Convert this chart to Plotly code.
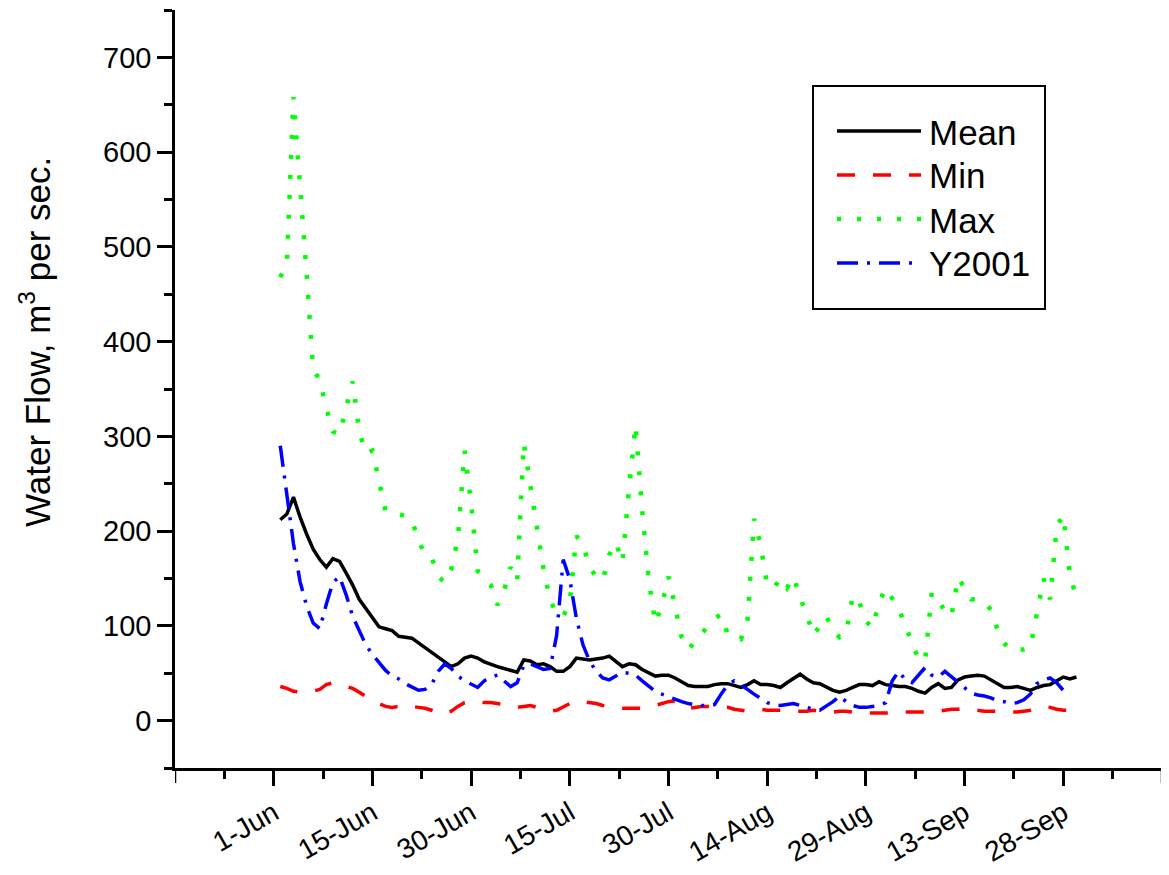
import plotly.graph_objects as go

# Day index: 0 = 1-Jun tick position; data runs day 1..122
days = list(range(1, 123))

mean_flow = [212, 218, 236, 215, 197, 181, 170, 162, 171, 168,
             156, 143, 128, 118, 108, 99, 97, 95, 89, 88,
             87, 82, 77, 72, 66, 61, 57, 60, 66, 68,
             66, 62, 59, 57, 55, 53, 51, 64, 63, 59,
             60, 57, 52, 52, 57, 66, 65, 64, 65, 66,
             68, 63, 57, 60, 59, 54, 50, 47, 48, 48,
             45, 41, 37, 36, 36, 36, 38, 39, 39, 37,
             35, 38, 42, 38, 38, 37, 35, 40, 45, 49,
             44, 40, 39, 35, 32, 30, 32, 35, 38, 38,
             37, 41, 38, 37, 36, 36, 34, 31, 29, 35,
             39, 34, 35, 43, 46, 47, 48, 47, 43, 38,
             35, 35, 36, 34, 32, 35, 37, 38, 42, 46,
             44, 46]

min_flow = [36, 34, 31, 30, 30, 31, 33, 38, 40, 38,
            36, 34, 30, 25, 21, 18, 15, 14, 15, 17,
            15, 14, 13, 11, 8, 7, 10, 15, 19, 21,
            20, 19, 19, 18, 17, 15, 14, 15, 16, 14,
            12, 10, 11, 15, 18, 21, 20, 19, 18, 16,
            15, 14, 13, 13, 13, 13, 14, 16, 18, 20,
            21, 16, 13, 14, 15, 15, 14, 14, 14, 12,
            11, 10, 11, 12, 11, 11, 11, 10, 10, 10,
            10, 11, 10, 9, 9, 10, 10, 9, 9, 8,
            8, 8, 8, 8, 9, 9, 9, 9, 9, 9,
            10, 11, 12, 12, 13, 12, 11, 10, 10, 10,
            9, 9, 9, 10, 11, 13, 15, 14, 12, 11,
            11, 11]

max_flow = [468, 482, 658, 570, 472, 370, 360, 330, 305, 302,
            328, 358, 305, 282, 285, 250, 221, 220, 218, 216,
            212, 190, 175, 172, 152, 146, 160, 193, 285, 230,
            158, 150, 143, 122, 137, 162, 147, 293, 250, 205,
            160, 128, 112, 110, 125, 195, 186, 162, 152, 148,
            175, 188, 167, 245, 312, 222, 148, 103, 122, 152,
            120, 88, 75, 83, 92, 100, 108, 112, 91, 88,
            86, 105, 213, 185, 143, 140, 150, 140, 152, 130,
            112, 90, 100, 110, 95, 88, 92, 132, 125, 105,
            98, 125, 140, 130, 118, 100, 82, 65, 63, 135,
            128, 115, 110, 151, 140, 128, 128, 125, 117, 96,
            82, 74, 75, 75, 77, 112, 150, 128, 205, 217,
            153, 130]

y2001_days = list(range(1, 121))
y2001_flow = [290, 241, 187, 147, 121, 103, 97, 123, 146, 152,
              133, 110, 94, 80, 70, 61, 53, 47, 44, 39,
              35, 32, 33, 38, 52, 60, 55, 47, 42, 38,
              35, 42, 46, 48, 42, 36, 40, 58, 60, 57,
              54, 55, 90, 170, 149, 108, 80, 63, 52, 45,
              43, 47, 51, 50, 48, 42, 36, 31, 28, 25,
              23, 20, 18, 17, 16, 16, 17, 28, 38, 42,
              38, 33, 28, 23, 19, 17, 16, 17, 18, 16,
              14, 12, 11, 15, 20, 26, 20, 16, 14, 14,
              15, 16, 19, 42, 52, 43, 40, 48, 56, 48,
              46, 52, 46, 41, 35, 29, 27, 26, 24, 21,
              20, 18, 19, 22, 28, 39, 43, 45, 40, 32]

tick_vals = [0, 15, 30, 45, 60, 75, 90, 105, 120]
tick_text = ["1-Jun", "15-Jun", "30-Jun", "15-Jul", "30-Jul",
             "14-Aug", "29-Aug", "13-Sep", "28-Sep"]
end_ticks = [-15, 135]

series_names = ["Mean", "Min", "Max", "Y2001"]
series_colors = ["black", "#FF0000", "#00FF00", "#0000FF"]
series_widths = [3.5, 3.5, 4.5, 3.5]
series_dash = ["solid", "18px,18px", "4px,16px", "21px,9px,3px,9px"]

FONT = "Liberation Sans, Arial, sans-serif"

# page is offset by the 8px body margin
W, H = 1161, 867
ML, MR, MT, MB = 167, 7, 2, 107
PW = W - ML - MR
PH = H - MT - MB


def px_x(p):  # page px -> paper x
    return (p - 8 - ML) / PW


def px_y(p):  # page px -> paper y
    return (H - MB + 8 - p) / PH


fig = go.Figure()
xs = [days, days, days, y2001_days]
ys = [mean_flow, min_flow, max_flow, y2001_flow]
for name, color, w, dash, x, y in zip(series_names, series_colors,
                                      series_widths, series_dash, xs, ys):
    fig.add_trace(go.Scatter(x=x, y=y, name=name, mode="lines",
                             showlegend=False,
                             line=dict(color=color, width=w, dash=dash)))

shapes = []
annotations = []
# major ticks at both ends of the x axis
for t in end_ticks:
    shapes.append(dict(type="line", xref="x", yref="paper", x0=t, x1=t,
                       y0=0, y1=-15 / PH,
                       line=dict(color="black", width=2.5)))

# legend box
shapes.append(dict(type="rect", xref="paper", yref="paper",
                   x0=px_x(813), x1=px_x(1045), y0=px_y(309), y1=px_y(86),
                   fillcolor="white", line=dict(color="black", width=2),
                   layer="above"))
legend_y = [131, 175, 219, 263]
for name, color, w, dash, ly in zip(series_names, series_colors,
                                    series_widths, series_dash, legend_y):
    shapes.append(dict(type="line", xref="paper", yref="paper",
                       x0=px_x(837), x1=px_x(921), y0=px_y(ly), y1=px_y(ly),
                       line=dict(color=color, width=w, dash=dash),
                       layer="above"))
    annotations.append(dict(text=name, xref="paper", yref="paper",
                            x=px_x(927), y=px_y(ly + 1), xanchor="left",
                            yanchor="middle", showarrow=False,
                            font=dict(size=35, family=FONT, color="black")))

annotations.append(dict(text="Water Flow, m<sup>3</sup> per sec.",
                        xref="paper", yref="paper", x=px_x(35), y=px_y(342),
                        xanchor="center", yanchor="middle", textangle=-90,
                        showarrow=False,
                        font=dict(size=35, family=FONT, color="black")))

fig.update_layout(
    width=W, height=H,
    margin=dict(l=ML, r=MR, t=MT, b=MB),
    paper_bgcolor="white", plot_bgcolor="white",
    font=dict(family=FONT, color="black", size=29),
    showlegend=False,
    xaxis=dict(range=[-15, 135], tickmode="array", tickvals=tick_vals,
               ticktext=tick_text, tickangle=-30, ticks="outside",
               ticklen=15, tickwidth=2.5, tickcolor="black",
               showline=True, linewidth=2.5, linecolor="black",
               showgrid=False, zeroline=False, automargin=False,
               tickfont=dict(size=28, family=FONT),
               minor=dict(tickmode="linear", tick0=-7.5, dtick=15,
                          ticks="outside", ticklen=8, tickwidth=2.5,
                          tickcolor="black", showgrid=False)),
    yaxis=dict(range=[-50, 750], tickmode="array",
               tickvals=[0, 100, 200, 300, 400, 500, 600, 700],
               ticks="outside", ticklen=15, tickwidth=2.5, tickcolor="black",
               showline=True, linewidth=2.5, linecolor="black",
               showgrid=False, zeroline=False, automargin=False,
               tickfont=dict(size=29, family=FONT),
               minor=dict(tickmode="linear", tick0=-50, dtick=100,
                          ticks="outside", ticklen=8, tickwidth=2.5,
                          tickcolor="black", showgrid=False)),
    shapes=shapes,
    annotations=annotations,
)

fig.write_html("out.html")
